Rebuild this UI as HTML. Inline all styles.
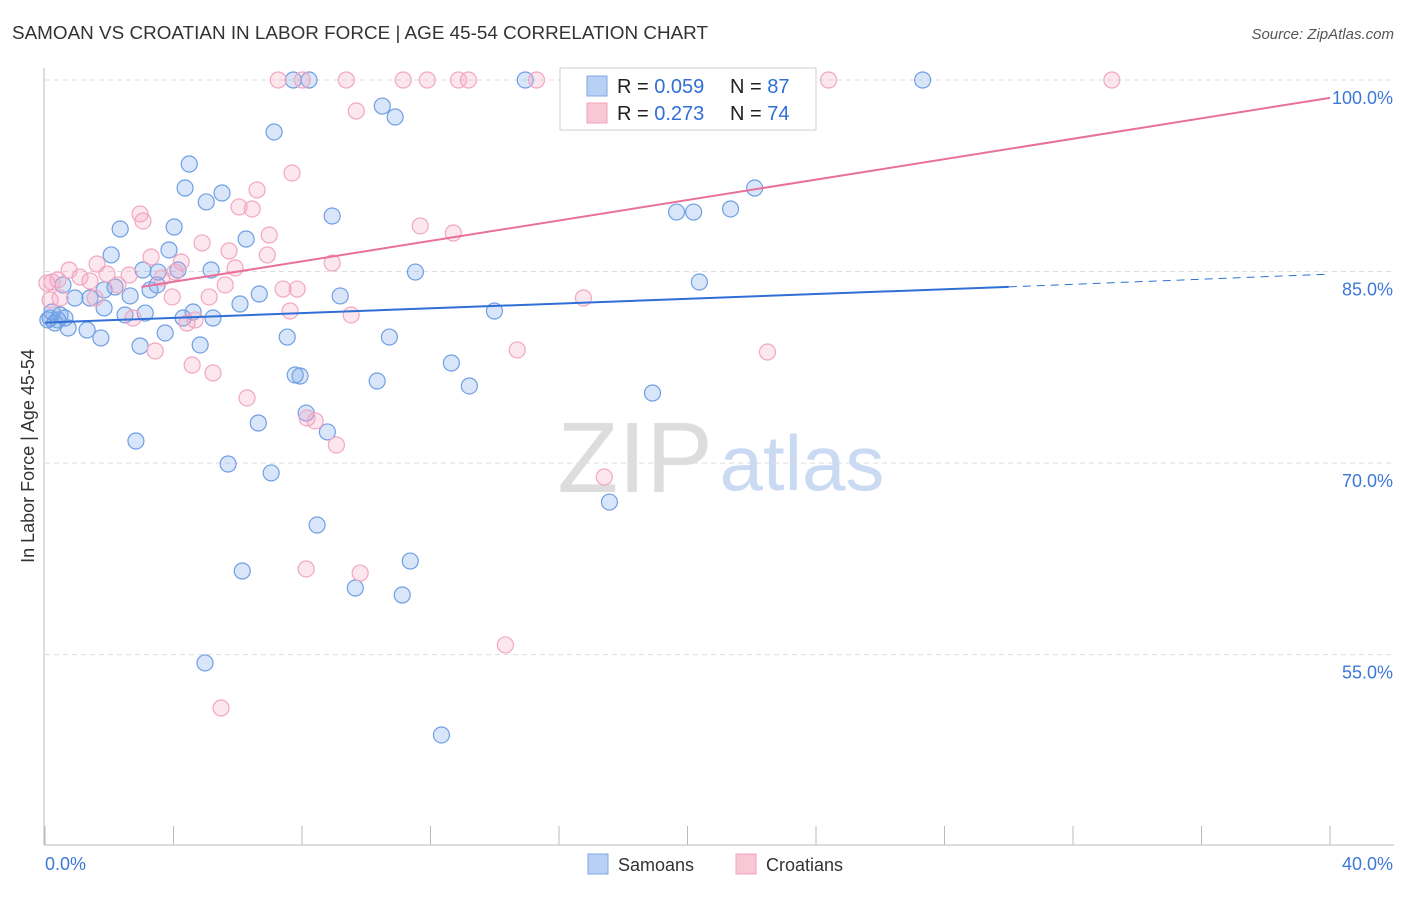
<!DOCTYPE html>
<html><head><meta charset="utf-8">
<style>
body{margin:0;background:#fff;font-family:"Liberation Sans",sans-serif;}
svg text{font-family:"Liberation Sans",sans-serif;}
</style></head>
<body>
<svg id="chart" width="1406" height="892" viewBox="0 0 1406 892">
<text x="12" y="39" font-size="18" fill="#333" textLength="696" lengthAdjust="spacingAndGlyphs">SAMOAN VS CROATIAN IN LABOR FORCE | AGE 45-54 CORRELATION CHART</text>
<text x="1394" y="39" font-size="15" fill="#555" font-style="italic" text-anchor="end">Source: ZipAtlas.com</text>
<text x="34" y="456" font-size="18" fill="#333" transform="rotate(-90 34 456)" text-anchor="middle">In Labor Force | Age 45-54</text>
<g>
<text x="635" y="492" font-size="100" fill="#ddd" font-family="Liberation Serif" text-anchor="middle">ZIP</text>
<text x="802" y="490" font-size="78" fill="#c9daf2" text-anchor="middle">atlas</text>
</g>
<g id="grid"></g>
<g id="axes"></g>
<g id="pts"></g>
<g id="lines"></g>
<g>
<rect x="560" y="68" width="256" height="62" fill="#fff" stroke="#ccc"/>
<rect x="587" y="76" width="20" height="20" fill="#b8d0f3" stroke="#7fa7e6"/>
<text x="617" y="93" font-size="20" fill="#222">R = <tspan fill="#2f6fd6">0.059</tspan></text>
<text x="730" y="93" font-size="20" fill="#222">N = <tspan fill="#2f6fd6">87</tspan></text>
<rect x="587" y="103" width="20" height="20" fill="#f9c8d6" stroke="#f0a0bc"/>
<text x="617" y="120" font-size="20" fill="#222">R = <tspan fill="#2f6fd6"> 0.273</tspan></text>
<text x="730" y="120" font-size="20" fill="#222">N = <tspan fill="#2f6fd6">74</tspan></text>
</g>
<g>
<rect x="588" y="854" width="20" height="20" fill="#b8d0f3" stroke="#7fa7e6"/>
<text x="618" y="871" font-size="18" fill="#333">Samoans</text>
<rect x="736" y="854" width="20" height="20" fill="#f9c8d6" stroke="#f0a0bc"/>
<text x="766" y="871" font-size="18" fill="#333">Croatians</text>
</g>
</svg>
<script>
const yTicks=[100,85,70,55];
const yTickLabels=["100.0%","85.0%","70.0%","55.0%"];
const xTicks=[0,4,8,12,16,20,24,28,32,36,40];
const xLabels=["0.0%","40.0%"];
const samoanX=[7.73,8.22,14.95,27.32,10.50,10.90,7.13,4.49,4.36,5.51,5.02,8.94,2.34,4.02,6.26,2.06,3.86,3.05,3.52,4.14,5.17,11.53,20.37,19.66,20.19,21.34,22.09,0.56,0.93,1.40,1.84,2.18,2.65,3.27,3.49,6.67,9.19,6.07,1.84,2.49,3.12,4.61,4.30,5.23,0.47,0.16,0.62,0.31,0.72,1.31,1.74,3.74,2.96,4.83,7.54,10.72,13.99,12.65,7.79,7.94,10.34,13.21,18.91,8.13,6.64,8.79,2.83,5.70,7.04,17.57,8.47,11.37,6.14,9.66,11.12,4.98,12.34,0.09,0.22,0.40];
const samoanY=[100,100,100,100,97.96,97.10,95.93,93.42,91.54,91.15,90.45,89.35,88.33,88.49,87.55,86.30,86.69,85.12,84.96,85.12,85.12,84.96,84.18,89.66,89.66,89.90,91.54,83.95,82.93,82.93,83.56,83.79,83.09,83.56,83.95,83.24,83.09,82.46,82.15,81.60,81.75,81.83,81.36,81.36,81.60,81.36,81.36,80.97,80.58,80.42,79.80,80.19,79.17,79.25,79.87,79.87,81.91,77.84,76.90,76.82,76.43,76.04,75.49,73.92,73.14,72.44,71.73,69.93,69.23,66.95,65.15,62.33,61.55,60.22,59.67,54.35,48.71,81.21,81.83,81.21];
const croatX=[7.26,8.01,9.38,11.15,11.90,12.87,13.18,15.30,22.24,24.39,33.21,9.69,23.30,7.69,6.60,6.04,6.45,2.96,3.05,11.68,12.71,4.89,5.73,6.98,6.92,3.30,1.62,4.24,5.92,8.94,0.75,1.09,1.93,2.62,3.64,4.05,0.40,0.22,0.06,1.40,2.27,5.61,7.41,7.85,3.96,5.11,16.76,7.63,9.53,2.74,4.67,4.42,3.43,14.70,22.49,4.58,5.23,6.29,8.16,8.41,9.07,17.41,8.13,9.81,14.33,5.48,0.16,0.47,1.56];
const croatY=[100,100,100,100,100,100,100,100,100,100,100,97.57,98.12,92.72,91.39,90.06,89.90,89.51,88.96,88.57,88.02,87.24,86.62,87.86,86.30,86.14,85.59,85.75,85.28,85.67,85.12,84.57,84.81,84.73,84.49,84.96,84.34,84.18,84.10,84.26,83.95,83.95,83.63,83.63,83.01,83.01,82.93,81.91,81.60,81.36,81.21,80.97,78.78,78.86,78.70,77.68,77.06,75.10,73.53,73.30,71.42,68.91,61.71,61.39,55.76,50.82,82.77,82.93,82.93];
const blueTrend=[[0,81.0],[30.0,83.8],[40,84.8]];
const pinkTrend=[[3,83.8],[40,98.6]];

const NS="http://www.w3.org/2000/svg";
const X=v=>45+v*(1285/40);
const Y=v=>80+(100-v)*12.77;
function mk(tag,attrs,parent){const e=document.createElementNS(NS,tag);for(const k in attrs)e.setAttribute(k,attrs[k]);parent.appendChild(e);return e;}
const grid=document.getElementById('grid'),axes=document.getElementById('axes'),pts=document.getElementById('pts'),lines=document.getElementById('lines');
yTicks.forEach((t,i)=>{
 const l=mk('line',{x1:45,x2:1394,y1:Y(t),y2:Y(t),stroke:'#ddd','stroke-dasharray':'5,4'},grid);
 
 
 const tx=mk('text',{x:1393,y:Y(t)+24,'font-size':18,fill:'#3d78d8','text-anchor':'end'},axes);
 tx.textContent=yTickLabels[i];
 
 
});
const ax=mk('line',{x1:44,x2:44,y1:68,y2:845,stroke:'#bbb'},axes);


const bx=mk('line',{x1:44,x2:1394,y1:845,y2:845,stroke:'#bbb'},axes);


xTicks.forEach(t=>{
 const l=mk('line',{x1:X(t),x2:X(t),y1:826,y2:845,stroke:'#bbb'},axes);
 
 
});
const xl0=mk('text',{x:45,y:870,'font-size':18,fill:'#3d78d8'},axes);xl0.textContent=xLabels[0];


const xl1=mk('text',{x:1393,y:870,'font-size':18,fill:'#3d78d8','text-anchor':'end'},axes);xl1.textContent=xLabels[1];


samoanX.forEach((x,i)=>{
 const c=mk('circle',{cx:X(x),cy:Y(samoanY[i]),r:8,fill:'rgba(120,165,235,0.28)',stroke:'#6f9fe3','stroke-width':1.2},pts);
 
 
});
croatX.forEach((x,i)=>{
 const c=mk('circle',{cx:X(x),cy:Y(croatY[i]),r:8,fill:'rgba(245,160,190,0.25)',stroke:'#f2a6c0','stroke-width':1.2},pts);
 
 
});
const b1=mk('line',{x1:X(blueTrend[0][0]),y1:Y(blueTrend[0][1]),x2:X(blueTrend[1][0]),y2:Y(blueTrend[1][1]),stroke:'#2f6fd6','stroke-width':2},lines);


const b2=mk('line',{x1:X(blueTrend[1][0]),y1:Y(blueTrend[1][1]),x2:X(blueTrend[2][0]),y2:Y(blueTrend[2][1]),stroke:'#2f6fd6','stroke-width':1,'stroke-dasharray':'8,6'},lines);


const p1=mk('line',{x1:X(pinkTrend[0][0]),y1:Y(pinkTrend[0][1]),x2:X(pinkTrend[1][0]),y2:Y(pinkTrend[1][1]),stroke:'#e8709a','stroke-width':2},lines);


</script>
</body></html>
